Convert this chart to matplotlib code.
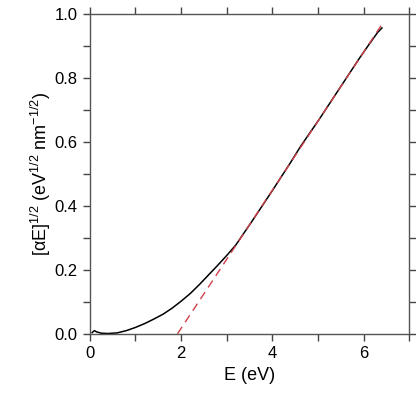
import matplotlib
matplotlib.use("Agg")
import matplotlib.pyplot as plt
from matplotlib.ticker import MultipleLocator, FormatStrFormatter

plt.rcParams['font.family'] = ['Liberation Sans', 'DejaVu Sans']
plt.rcParams['mathtext.default'] = 'regular'

# measured absorption curve, sqrt(alpha*E) vs E
energy = [0.05, 0.10, 0.15, 0.25, 0.40, 0.60, 0.80, 1.00, 1.20, 1.40, 1.60,
          1.80, 2.00, 2.20, 2.40, 2.60, 2.80, 3.00, 3.20, 3.40, 3.60, 3.80,
          4.00, 4.20, 4.40, 4.60, 4.80, 5.00, 5.30, 5.60, 5.90, 6.10, 6.30, 6.40]
sqrt_ae = [0.004, 0.010, 0.006, 0.002, 0.001, 0.003, 0.010, 0.020, 0.032,
           0.046, 0.061, 0.080, 0.102, 0.126, 0.154, 0.184, 0.214, 0.245,
           0.278, 0.320, 0.362, 0.405, 0.448, 0.492, 0.536, 0.582, 0.624,
           0.665, 0.730, 0.795, 0.860, 0.901, 0.941, 0.956]

# linear (Tauc) fit extrapolated to zero
fit_e = [1.92, 6.38]
fit_y = [0.0, 0.963]

fig = plt.figure(figsize=(4.16, 3.96), dpi=100)
ax = fig.add_axes([0.216, 0.157, 0.768, 0.808])

ax.plot(energy, sqrt_ae, color='black', lw=1.1)
ax.plot(fit_e, fit_y, color='#d0404a', lw=1.0, ls=(0, (6, 4)))

ax.set_xlim(0, 7)
ax.set_ylim(0, 1.0)
ax.xaxis.set_major_locator(MultipleLocator(2))
ax.xaxis.set_minor_locator(MultipleLocator(1))
ax.yaxis.set_major_locator(MultipleLocator(0.2))
ax.yaxis.set_minor_locator(MultipleLocator(0.1))
ax.yaxis.set_major_formatter(FormatStrFormatter('%.1f'))

ax.tick_params(which='both', direction='out', top=True, right=True,
               length=5, width=1.0, color='#444444', labelsize=12, pad=4)
for s in ax.spines.values():
    s.set_color('#555555')
    s.set_linewidth(1.0)

ax.set_xlabel('E (eV)', fontsize=13, labelpad=4)
ax.set_ylabel(r'[$\alpha$E]$^{1/2}$ (eV$^{1/2}$ nm$^{-1/2}$)', fontsize=13,
              labelpad=1)

fig.savefig('out.png', dpi=100, facecolor='white')
